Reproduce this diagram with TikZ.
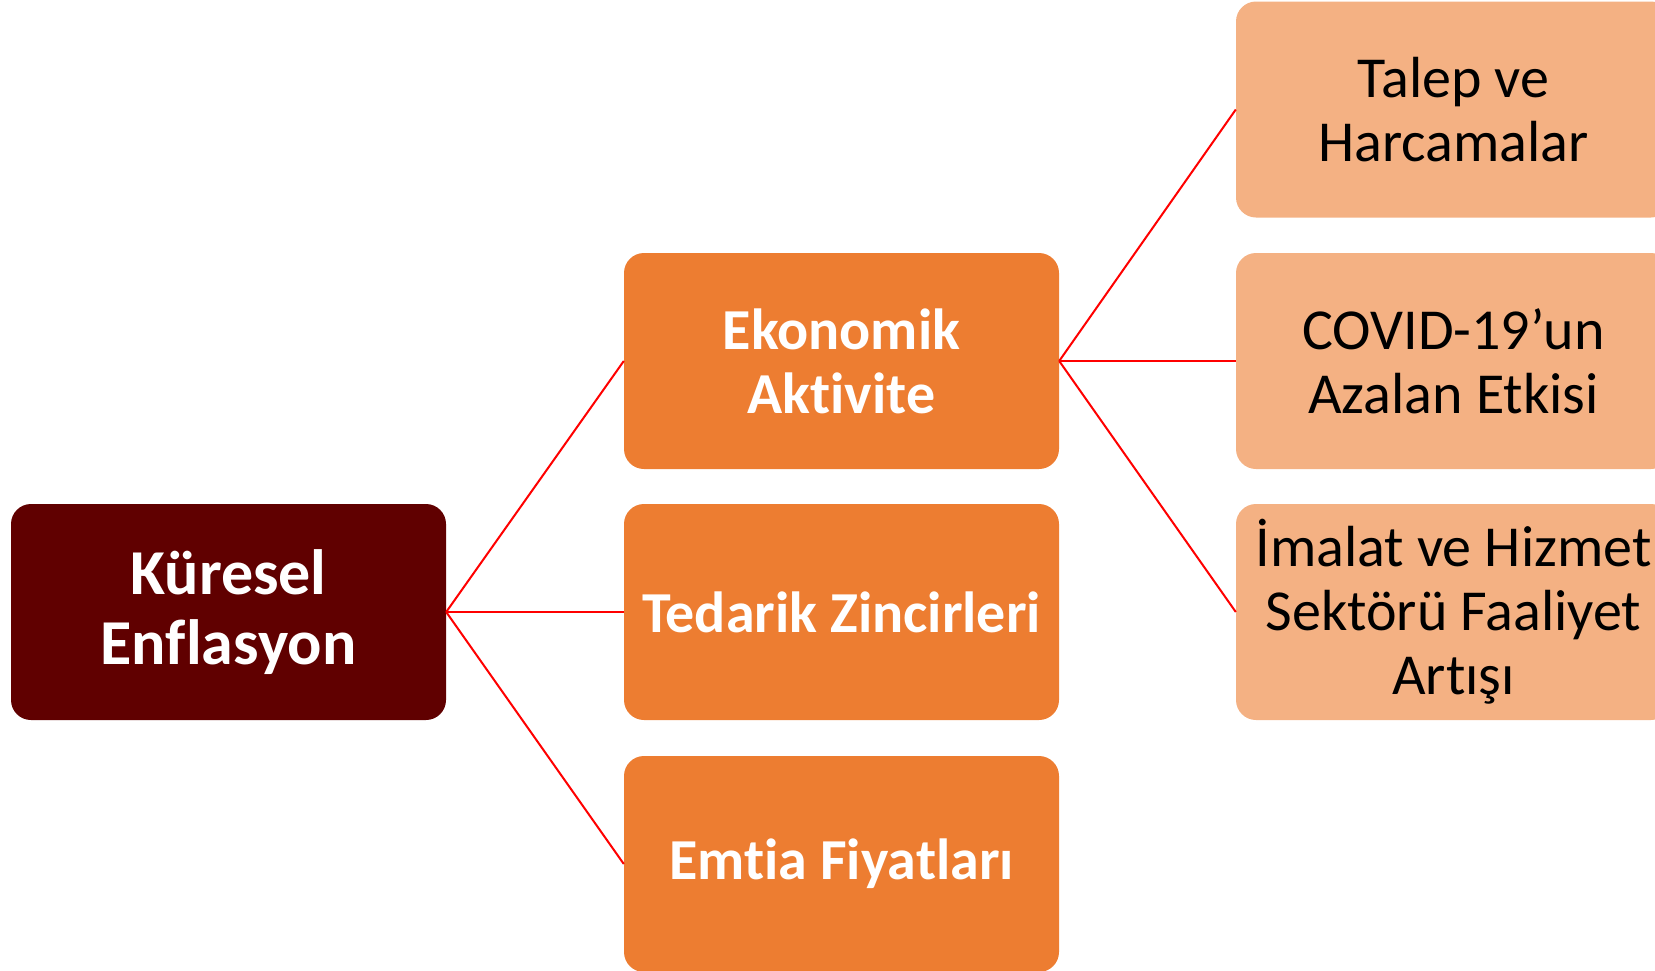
\documentclass[tikz,border=0pt]{standalone}
\usepackage{fontspec}
\setmainfont{Carlito}[RawFeature=-liga]
\definecolor{rootred}{HTML}{600000}
\definecolor{midorange}{HTML}{ED7D31}
\definecolor{leaforange}{HTML}{F4B183}
\newcommand{\roottext}{\fontsize{64}{70}\selectfont}
\newcommand{\cardtext}{\fontsize{58}{64}\selectfont}

\begin{document}
\begin{tikzpicture}[x=1pt,y=-1pt,
  card/.style={rounded corners=20pt,minimum width=435pt,minimum height=216pt,inner sep=0pt,align=center},
  rootcard/.style={card,fill=rootred,text=white,font=\roottext\bfseries},
  midcard/.style={card,fill=midorange,text=white,font=\cardtext\bfseries},
  leafcard/.style={card,fill=leaforange,text=black,font=\cardtext},
  link/.style={draw=red,line width=2pt}]
\useasboundingbox (0,0) rectangle (1655,970);
\clip (0,0) rectangle (1655,970);

% root
\node[rootcard] (kuresel) at (228.5,612) {Küresel\\Enflasyon};

% middle column
\node[midcard] (ekonomik) at (841.5,361) {Ekonomik\\Aktivite};
\node[midcard] (tedarik) at (841.5,612) {Tedarik Zincirleri};
\node[midcard] (emtia) at (841.5,864) {Emtia Fiyatları};

% right column
\node[leafcard] (talep) at (1453.5,109.5) {Talep ve\\Harcamalar};
\node[leafcard] (covid) at (1453.5,361) {COVID-19’un\\Azalan Etkisi};
\node[leafcard] (imalat) at (1453.5,612) {İmalat ve Hizmet\\Sektörü Faaliyet\\Artışı};

% connectors
\foreach \dst in {ekonomik,tedarik,emtia}
  \draw[link] (kuresel.east) -- (\dst.west);
\foreach \dst in {talep,covid,imalat}
  \draw[link] (ekonomik.east) -- (\dst.west);
\end{tikzpicture}
\end{document}
